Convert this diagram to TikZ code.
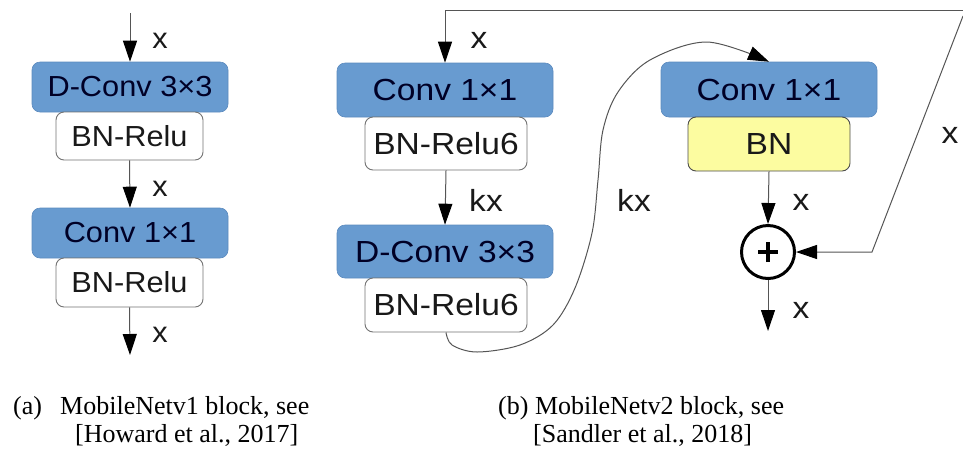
\documentclass[tikz,border=0pt]{standalone}
\usepackage{fontspec}
\setmainfont{Liberation Sans}
\newfontfamily\boxa[FakeStretch=1.06]{Liberation Sans}
\newfontfamily\boxb[FakeStretch=1.1]{Liberation Sans}
\newfontfamily\capfont{Liberation Serif}
\usetikzlibrary{arrows.meta}
\definecolor{convblue}{RGB}{104,155,208}
\definecolor{convedge}{RGB}{92,138,190}
\definecolor{bnyellow}{RGB}{252,252,160}
\definecolor{linegray}{RGB}{85,85,85}
\begin{document}
\begin{tikzpicture}[x=1pt,y=-1pt,
  boxfont/.style={font=\boxa\fontsize{29}{31}\selectfont},
  wide/.style={font=\boxb\fontsize{30.5}{32}\selectfont},
  conv/.style={boxfont, rounded corners=8pt, fill=convblue, draw=convedge, line width=0.6pt, inner sep=0pt, text=black!85!blue},
  bnbox/.style={boxfont, rounded corners=8pt, fill=white, draw=black!55, line width=0.9pt, inner sep=0pt, text=black!90},
  ybox/.style={bnbox, fill=bnyellow, draw=black!70},
  lab/.style={boxfont, anchor=base, inner sep=0pt, text=black!90},
  arr/.style={draw=linegray, line width=1pt, -{Triangle[length=21pt,width=14pt,fill=black,color=black]}},
  captext/.style={font=\capfont\fontsize{26}{28}\selectfont, anchor=base west, inner sep=0pt}]
\useasboundingbox (0,0) rectangle (963,451);

% ---------- (a) MobileNetv1 ----------
\node[conv, minimum width=196pt, minimum height=50pt] (a1) at (130,87) {D-Conv 3×3};
\node[bnbox, minimum width=147pt, minimum height=48pt] (a2) at (129.5,136) {BN-Relu};
\node[conv, minimum width=196pt, minimum height=50pt] (a3) at (130,233) {Conv 1×1};
\node[bnbox, minimum width=147pt, minimum height=49pt] (a4) at (129.5,282.5) {BN-Relu};
\coordinate (ain) at (130,13);
\coordinate (aout) at (130,355);
\draw[arr] (ain) -- (a1.north);
\draw[arr] (a2.south) -- (a3.north);
\draw[arr] (a4.south) -- (aout);
\node[lab] (la1) at (160,48) {x};
\node[lab] (la2) at (160,196) {x};
\node[lab] (la3) at (160,342) {x};

% ---------- (b) MobileNetv2 ----------
\node[conv, wide, minimum width=216pt, minimum height=54pt] (b1) at (445,90) {Conv 1×1};
\node[bnbox, wide, minimum width=162pt, minimum height=53pt] (b2) at (446,143.5) {BN-Relu6};
\node[conv, wide, minimum width=216pt, minimum height=53pt] (b3) at (445,251.5) {D-Conv 3×3};
\node[bnbox, wide, minimum width=162pt, minimum height=54pt] (b4) at (446,305) {BN-Relu6};

\node[conv, wide, minimum width=216pt, minimum height=55pt] (c1) at (769,89.5) {Conv 1×1};
\node[ybox, wide, minimum width=162pt, minimum height=54pt] (c2) at (769,144) {BN};

\node[circle, draw=black, line width=3pt, minimum size=53pt, inner sep=0pt,
  path picture={
    \draw[line width=4pt] ([xshift=-10pt]path picture bounding box.center) -- ([xshift=10pt]path picture bounding box.center);
    \draw[line width=4pt] ([yshift=-10pt]path picture bounding box.center) -- ([yshift=10pt]path picture bounding box.center);
  }] (sum) at (768,252) {};

\coordinate (tr) at (963,10);
\coordinate (tl) at (445,10);
\draw[arr] (tr) -- (tl) -- (b1.north);
\draw[arr] (b2.south) -- (b3.north);

\draw[arr] plot[smooth, tension=0.55] coordinates {(b4.south) (452,345) (477,352) (520,345) (553,325) (575,288) (592,233) (598,180) (603,130) (618,92) (650,60) (707,42) (c1.north)};

\draw[arr] (c2.south) -- (sum.north);
\coordinate (cout) at (768,331);
\draw[arr] (sum.south) -- (cout);

\coordinate (dr) at (963,16);
\coordinate (dk) at (872,252);
\draw[arr] (dr) -- (dk) -- (sum.east);

\node[lab, wide] (lb1) at (479,48) {x};
\node[lab, wide] (lb2) at (486,211) {kx};
\node[lab, wide] (lb3) at (634,211) {kx};
\node[lab, wide] (lc1) at (801,210) {x};
\node[lab, wide] (lc2) at (801,318) {x};
\node[lab, wide] (lc3) at (950,143) {x};

% ---------- captions ----------
\node[captext] (ca1) at (13,414) {(a)};
\node[captext] (ca2) at (60,414) {MobileNetv1 block, see};
\node[captext] (ca3) at (75,442) {[Howard et al., 2017]};
\node[captext] (cb1) at (498,414) {(b) MobileNetv2 block, see};
\node[captext] (cb2) at (533,442) {[Sandler et al., 2018]};
\end{tikzpicture}
\end{document}
